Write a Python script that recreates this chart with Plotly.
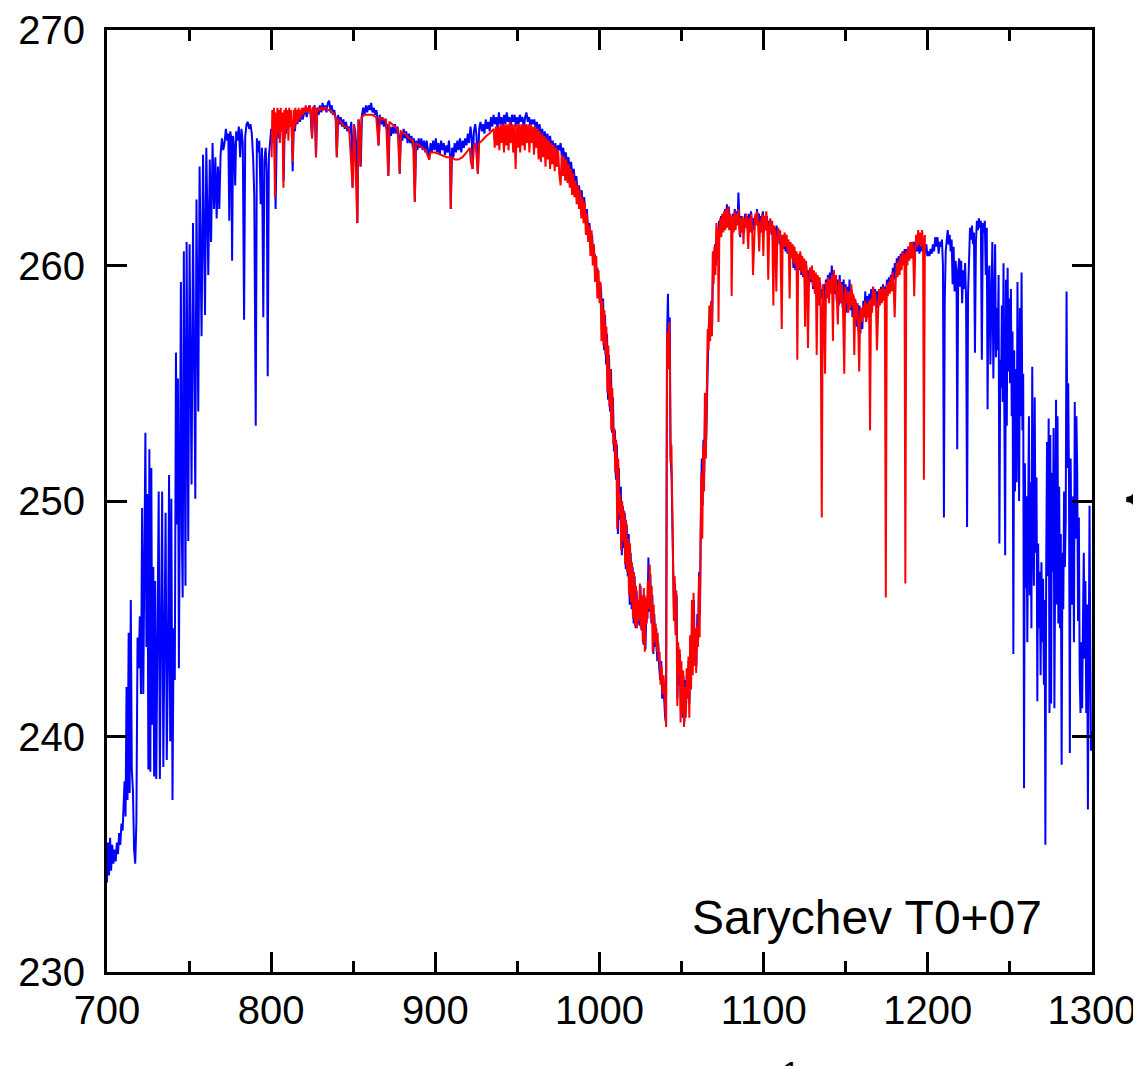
import plotly.graph_objects as go

# blue spectrum (wavenumber, brightness temperature)
blue_rise = [(700.0,233.8),(700.6,235.5),(701.2,234.1),(701.9,235.7),(702.5,234.3),(703.2,235.4),(703.9,234.6),(704.6,235.2),(705.3,234.7),(706.0,235.5),(706.7,235.0),(707.4,235.9),(708.1,235.4),(708.8,236.3),(709.5,236.0),(710.2,237.1),(710.7,238.1),(711.3,236.6),(711.9,242.1),(712.5,237.3),(713.2,244.4),(713.8,237.6),(714.5,245.8),(715.1,238.6),(715.8,237.7),(716.5,235.2),(717.2,234.6),(717.9,236.4),(718.6,244.2),(719.3,242.9),(720.0,245.1),(720.7,241.8),(721.4,249.7),(722.1,241.8),(722.8,246.5),(723.4,252.9),(724.0,243.8),(724.6,250.3),(725.2,238.6),(725.8,252.2),(726.4,238.5),(727.0,251.4),(727.6,240.5),(728.2,247.2),(728.7,238.3),(729.3,246.6),(730.0,238.2),(730.7,244.8),(731.5,250.4),(732.2,238.2),(732.9,243.6),(733.6,250.4),(734.3,238.7),(735.0,245.0),(735.7,249.5),(736.4,239.0),(737.1,243.0),(737.8,251.1),(738.5,239.8),(739.2,250.1),(739.9,237.3),(740.6,244.6),(741.3,242.4),(742.0,256.3),(742.7,249.0),(743.2,255.2),(743.8,242.9),(744.4,250.6),(745.0,259.3),(745.6,248.5),(746.1,245.9),(746.8,260.6),(747.3,252.0),(747.8,246.4),(748.5,261.0),(749.0,254.4),(749.5,248.3),(750.3,260.9),(750.9,255.6),(751.5,250.7),(752.4,261.8),(753.1,256.0),(753.8,250.1),(754.5,262.8),(755.0,258.5),(755.6,253.8),(756.4,264.2),(757.0,259.8),(757.6,257.0),(758.5,264.7),(759.1,261.5),(759.7,257.9),(760.5,265.0),(761.1,262.5),(761.7,259.6),(762.6,264.5),(763.4,261.0),(764.3,265.2),(765.2,262.4),(766.0,264.6),(766.8,262.0),(767.6,264.2),(768.4,262.4),(769.2,264.7),(770.0,265.4),(770.8,264.9),(771.6,265.2),(772.4,265.8),(773.2,265.3),(773.9,265.6),(774.5,261.9),(775.1,265.7),(775.7,265.4),(776.2,260.2),(776.8,265.5),(777.5,265.0),(778.1,263.4),(778.7,265.7),(779.5,265.3),(780.3,265.9),(781.1,264.6),(781.9,265.8),(782.7,265.2),(783.5,257.7),(784.2,265.5),(785.0,266.0),(785.8,266.1),(786.6,265.8),(787.4,266.0),(788.2,265.6),(789.0,264.6),(789.7,263.0),(790.6,253.2),(791.3,265.4),(792.0,264.8),(792.8,265.3),(793.6,262.6),(794.4,265.0),(795.2,257.8),(795.9,264.5),(796.6,265.0),(797.3,264.0),(797.9,255.3),(798.6,264.6),(799.3,265.2),(800.0,265.8)]

blue_plateau = [(800.7,265.3),(801.4,266.2),(802.1,265.0),(802.7,262.4),(803.4,265.6),(804.1,266.0),(804.8,265.4),(805.5,266.2),(806.2,265.7),(806.9,266.3),(807.6,263.6),(808.3,266.0),(809.0,265.6),(809.7,266.3),(810.4,265.8),(811.1,266.4),(811.8,265.9),(812.5,266.2),(813.1,264.0),(813.8,266.1),(814.5,265.7),(815.2,266.4),(816.0,266.0),(816.8,266.5),(817.6,266.1),(818.4,266.6),(819.2,266.2),(820.0,266.5),(820.8,266.7),(821.6,266.3),(822.4,266.6),(823.2,266.8),(824.0,266.4),(824.9,265.4),(825.7,266.6),(826.5,266.8),(827.3,264.6),(828.1,266.7),(828.9,266.4),(829.7,266.8),(830.5,266.5),(831.3,266.9),(832.1,266.6),(832.9,266.8),(833.7,266.5),(834.5,266.9),(835.3,267.0),(836.1,266.6),(836.9,266.8),(837.7,266.4),(838.5,266.6),(839.3,266.2),(840.0,264.6),(840.8,266.4),(841.6,266.0),(842.4,266.3),(843.2,265.9),(844.0,266.2),(844.8,265.8),(845.6,266.1),(846.4,265.7),(847.2,265.9),(848.0,265.6),(848.8,266.1),(849.6,263.3),(850.4,266.0),(851.2,265.7),(852.0,264.9),(852.5,261.8),(853.2,266.2),(854.0,265.9),(854.6,264.2),(855.3,266.4),(856.1,266.7),(856.9,266.4),(857.7,266.8),(858.5,266.5),(859.3,266.8),(860.1,266.6),(860.9,266.9),(861.7,266.5),(862.5,266.7),(863.3,266.4),(864.1,266.6),(864.9,266.2),(865.4,265.1),(866.2,266.4),(867.0,266.0),(867.8,266.3),(868.6,265.9),(869.4,266.2),(870.2,265.8),(871.0,266.0),(871.4,263.8),(872.2,265.9),(873.0,265.5),(873.8,265.9),(874.6,265.6),(875.4,266.0),(876.2,265.6),(877.0,265.9),(877.8,265.5),(878.3,263.9),(879.1,265.7),(879.9,265.3),(880.7,265.8),(881.5,265.4),(882.3,265.7),(883.1,265.2),(883.9,265.6),(884.7,265.2),(885.5,265.5),(886.3,265.0),(887.0,265.4),(887.5,262.7),(888.3,265.3),(889.1,264.9),(889.9,265.4),(890.7,265.0),(891.5,265.4),(892.3,264.9),(893.1,265.3),(893.9,264.8),(894.7,265.3),(895.5,264.9),(896.3,264.5),(897.1,265.2),(897.9,264.8),(898.7,265.3),(899.5,264.9),(900.3,265.4),(901.1,264.8),(901.9,265.2),(902.7,264.7),(903.5,265.3),(904.3,264.9),(905.1,265.2),(905.9,264.7),(906.7,265.1),(907.5,264.8),(908.3,265.3),(909.0,264.6),(909.4,262.4),(910.2,265.0),(911.0,264.6),(911.8,265.2),(912.6,264.8),(913.4,265.3),(914.2,264.9),(915.0,265.4),(915.8,264.8),(916.6,265.3),(917.4,265.0),(918.2,265.4),(919.0,265.1),(919.8,265.6),(920.6,265.2),(921.4,265.9),(922.2,265.4),(922.7,264.1),(923.5,265.7),(924.3,266.0),(925.1,265.5),(925.9,263.9),(926.7,265.8),(927.5,266.1),(928.3,265.7),(929.1,266.0),(929.9,265.6),(930.7,266.2),(931.5,265.8),(932.3,266.1),(933.1,265.7),(933.9,266.3),(934.7,265.9),(935.5,266.4),(936.3,266.0),(937.1,266.3),(937.9,265.8),(938.7,266.5),(939.5,266.0),(940.3,266.3),(941.1,265.9),(941.9,266.4),(942.7,266.0),(943.5,266.5),(944.3,266.1),(945.1,266.3),(945.9,265.8),(946.7,266.4),(947.5,266.1),(948.3,266.4),(949.1,265.9),(949.9,266.3),(950.7,266.0),(951.5,266.4),(952.3,266.1),(953.1,266.3),(953.9,265.8),(954.7,266.3),(955.5,266.5),(956.3,266.1),(957.1,266.3),(957.9,265.9),(958.7,266.2),(959.5,266.0),(960.3,266.2),(961.1,265.8),(961.9,266.1),(962.7,265.6),(963.5,266.0),(964.3,265.5),(965.1,265.8),(965.9,265.3),(966.7,265.7),(967.5,265.2),(968.3,265.6),(969.1,265.1),(969.9,265.5),(970.7,265.0),(971.5,265.3),(972.3,264.8),(973.1,265.2),(973.9,264.7),(974.7,265.1),(975.5,264.9),(976.3,265.2),(977.1,264.6),(977.9,265.0),(978.7,264.5),(979.5,264.8),(980.3,264.2),(981.1,264.6),(981.9,264.0),(982.7,264.4),(983.5,263.8),(984.3,264.1),(985.1,263.5),(985.9,263.8),(986.7,263.1),(987.5,263.4),(988.3,262.8),(989.1,263.2),(989.9,262.5),(990.7,262.9),(991.5,261.9),(992.3,262.4),(993.1,261.4),(993.9,261.8),(994.7,260.7),(995.5,261.3),(996.3,260.1),(997.1,260.5),(997.9,259.4),(998.7,259.9),(999.5,258.8),(1000.3,259.3)]

blue_band = [(1001.0,258.9),(1001.6,256.9),(1002.2,258.6),(1002.8,256.4),(1003.4,257.9),(1004.0,255.8),(1004.6,257.1),(1005.2,254.3),(1005.8,256.2),(1006.4,253.8),(1007.0,255.6),(1007.6,252.9),(1008.2,254.4),(1008.8,252.1),(1009.4,253.0),(1010.0,250.9),(1010.6,252.4),(1011.2,248.6),(1011.8,251.4),(1012.4,249.2),(1013.0,250.6),(1013.6,247.7),(1014.2,249.8),(1014.8,248.0),(1015.4,249.5),(1016.0,247.1),(1016.6,249.0),(1017.2,246.8),(1017.8,248.6),(1018.4,245.6),(1019.0,247.8),(1019.6,245.4),(1020.2,247.2),(1020.8,244.8),(1021.4,246.8),(1022.0,244.6),(1022.6,246.2),(1023.2,244.8),(1023.8,245.6),(1024.4,244.7),(1025.0,246.4),(1025.6,244.5),(1026.2,245.8),(1026.8,243.9),(1027.4,246.0),(1028.0,243.7),(1028.6,245.6),(1029.2,245.0),(1029.8,247.6),(1030.4,245.3),(1031.0,246.9),(1031.6,244.8),(1032.2,246.0),(1032.8,243.5),(1033.4,245.2),(1034.0,243.8),(1034.6,244.6),(1035.2,243.2),(1035.8,244.0),(1036.4,242.9),(1037.0,242.4),(1037.6,243.2),(1038.2,241.6),(1038.8,242.4),(1039.4,241.5),(1040.0,240.8),(1040.5,240.6),(1041.1,256.8),(1041.7,258.8),(1042.2,256.2),(1042.8,257.8),(1043.3,252.0),(1043.9,251.0),(1044.4,248.9),(1044.9,246.4),(1045.4,245.2),(1046.0,246.5),(1046.5,244.6),(1047.0,246.0),(1047.5,241.6),(1048.0,243.8),(1048.5,242.2),(1049.0,243.5),(1049.6,241.0),(1050.1,242.8),(1050.6,240.8),(1051.1,242.6),(1051.7,240.6),(1052.2,242.4),(1052.7,241.2),(1053.2,242.6),(1053.8,241.8),(1054.3,243.2),(1054.8,241.4),(1055.4,244.0),(1055.9,242.6),(1056.4,245.2),(1057.0,243.0),(1057.5,245.8),(1058.0,243.4),(1058.5,244.2),(1059.0,243.0),(1059.6,245.2),(1060.2,244.4),(1060.7,247.0),(1061.2,245.2),(1061.8,249.6),(1062.3,251.8),(1062.8,249.8),(1063.3,252.6),(1063.8,251.2),(1064.4,254.4),(1065.0,252.6),(1065.6,255.4),(1066.2,256.6),(1066.8,257.8),(1067.4,257.2),(1068.0,258.4),(1068.6,257.4),(1069.2,260.2),(1069.8,259.6),(1070.4,260.9),(1071.0,260.0),(1071.6,261.6),(1072.2,260.8),(1072.8,261.9),(1073.4,261.3),(1074.0,262.1),(1074.6,261.5),(1075.2,262.2),(1075.8,261.6),(1076.4,262.4),(1077.0,261.8),(1077.6,262.6),(1078.2,261.9),(1078.8,262.5),(1079.4,261.6),(1080.0,262.0),(1080.6,261.4),(1081.2,262.2),(1081.8,261.6),(1082.4,262.4),(1083.0,261.8),(1083.6,262.3),(1084.2,262.0),(1084.6,263.1),(1085.1,261.8),(1085.7,261.2),(1086.3,262.1),(1086.9,261.5),(1087.5,262.0),(1088.1,261.4),(1088.7,262.2),(1089.3,261.7),(1089.9,262.1),(1090.5,261.4),(1091.1,262.2),(1091.7,261.8),(1092.3,262.3),(1092.9,261.6),(1093.5,262.0),(1094.1,261.5),(1094.7,262.1),(1095.3,261.8),(1095.9,262.4),(1096.5,261.8),(1097.1,262.2),(1097.7,261.6),(1098.3,262.1),(1098.9,261.7),(1099.5,262.3),(1100.1,261.6),(1100.7,262.0),(1101.3,261.5),(1101.9,262.1),(1102.5,261.6),(1103.1,261.9),(1103.7,261.4),(1104.3,261.9),(1104.9,261.3),(1105.5,261.7),(1106.1,261.2),(1106.7,261.6),(1107.3,261.1),(1107.9,261.7),(1108.5,261.0),(1109.1,261.5),(1109.7,260.9),(1110.3,261.3),(1110.9,260.6),(1111.5,261.2),(1112.1,260.7),(1112.7,261.3),(1113.3,260.6),(1113.9,261.1),(1114.5,260.5),(1115.1,261.0),(1115.7,260.3),(1116.3,260.8),(1116.9,260.4),(1117.5,260.9),(1118.1,259.9),(1118.7,260.6),(1119.3,259.8),(1119.9,260.5),(1120.5,259.6),(1121.1,260.4),(1121.7,259.8),(1122.3,260.5),(1122.9,259.6),(1123.5,260.3),(1124.1,259.5),(1124.7,260.2),(1125.3,258.9),(1125.9,260.0),(1126.5,259.3),(1127.1,259.8),(1127.7,259.2),(1128.3,259.9),(1128.9,259.3),(1129.5,259.8),(1130.1,259.0),(1130.7,259.6),(1131.3,258.8),(1131.9,259.4),(1132.5,258.6),(1133.1,259.5),(1133.7,258.4),(1134.3,259.3),(1134.9,258.6),(1135.5,259.0),(1136.1,258.4),(1136.7,259.2),(1137.3,258.5),(1137.9,259.4),(1138.5,258.7),(1139.1,259.6),(1139.7,258.6),(1140.3,259.7),(1140.9,258.9),(1141.5,260.0),(1142.1,259.0),(1142.7,259.8),(1143.3,258.8),(1143.9,259.6),(1144.5,258.5),(1145.1,259.4),(1145.7,258.3),(1146.3,259.6),(1146.9,258.4),(1147.5,259.3),(1148.1,258.2),(1148.7,259.4),(1149.3,258.3),(1149.9,259.2),(1150.5,258.0),(1151.1,259.1),(1151.7,258.2),(1152.3,259.4),(1152.9,258.1),(1153.5,259.0),(1154.1,257.8),(1154.7,258.7),(1155.3,257.6),(1155.9,258.5),(1156.5,257.4),(1157.1,258.4),(1157.7,257.2),(1158.3,258.3),(1158.9,257.1),(1159.5,258.2),(1160.1,257.3),(1160.7,258.5),(1161.3,257.8),(1161.9,258.9),(1162.5,257.6),(1163.1,258.7),(1163.7,257.9),(1164.3,258.8),(1164.9,258.2),(1165.5,259.0),(1166.1,258.4),(1166.7,259.1),(1167.3,258.3),(1167.9,259.0),(1168.5,258.4),(1169.1,258.9),(1169.7,258.2),(1170.3,259.0),(1170.9,258.4),(1171.5,259.1),(1172.1,258.5),(1172.7,259.2),(1173.3,258.6),(1173.9,259.1),(1174.5,258.7),(1175.1,259.4),(1175.7,258.9),(1176.3,259.5),(1176.9,259.0),(1177.5,259.6),(1178.1,259.2),(1178.7,259.9),(1179.3,259.4),(1179.9,260.1),(1180.5,259.6),(1181.1,260.3),(1181.7,259.8),(1182.3,260.4),(1182.9,259.9),(1183.5,260.5),(1184.1,260.0),(1184.7,260.6),(1185.3,260.1),(1185.9,260.7),(1186.5,260.2),(1187.1,260.7),(1187.7,260.3),(1188.3,260.8),(1188.9,260.3),(1189.5,260.9),(1190.1,260.5),(1190.7,261.0),(1191.3,260.5),(1191.9,261.0),(1192.5,260.6),(1193.1,261.1),(1193.7,260.6),(1194.3,260.9),(1194.9,260.5),(1195.5,261.0),(1196.1,260.6),(1196.7,261.0),(1197.3,260.6),(1197.9,260.9),(1198.5,260.5),(1199.1,260.9),(1199.7,260.4)]

blue_tail = [(1200.3,260.6),(1201.0,260.4),(1201.7,260.7),(1202.4,260.5),(1203.1,260.9),(1203.8,260.6),(1204.5,261.2),(1205.2,260.8),(1205.9,261.2),(1206.6,260.5),(1207.3,261.0),(1208.0,260.8),(1208.6,261.1),(1209.2,260.0),(1209.8,249.3),(1210.3,258.5),(1210.9,260.6),(1211.5,261.2),(1212.1,261.5),(1212.7,260.9),(1213.3,261.3),(1213.9,260.6),(1214.5,261.1),(1215.1,259.2),(1215.7,260.8),(1216.3,258.9),(1216.9,260.2),(1217.5,259.5),(1217.9,252.2),(1218.5,259.8),(1219.1,260.3),(1219.7,259.1),(1220.3,260.2),(1220.9,258.4),(1221.5,259.8),(1222.1,259.0),(1222.7,260.1),(1223.3,258.6),(1223.9,248.9),(1224.5,258.8),(1225.1,261.0),(1225.7,261.6),(1226.3,261.1),(1226.9,261.7),(1227.5,260.9),(1228.1,261.4),(1228.7,256.3),(1229.3,261.0),(1229.9,261.9),(1230.5,261.5),(1231.1,262.0),(1231.7,261.6),(1232.3,261.9),(1232.9,256.0),(1233.5,261.8),(1234.1,261.4),(1234.7,261.9),(1235.3,259.6),(1235.9,261.6),(1236.4,253.9),(1236.9,259.4),(1237.5,260.0),(1238.1,255.8),(1238.7,259.6),(1239.3,261.0),(1239.9,255.2),(1240.5,258.6),(1241.0,260.9),(1241.5,256.1),(1242.0,258.2),(1242.6,256.4),(1243.1,259.6),(1243.6,248.2),(1244.1,256.0),(1244.6,254.8),(1245.1,258.3),(1245.6,254.2),(1246.1,260.1),(1246.6,253.8),(1247.1,247.7),(1247.6,259.4),(1248.1,253.2),(1248.6,259.9),(1249.1,255.5),(1249.6,258.6),(1250.1,255.0),(1250.6,259.0),(1251.1,253.6),(1251.6,257.2),(1252.1,243.5),(1252.6,256.4),(1253.1,250.4),(1253.6,255.6),(1254.1,250.8),(1254.6,259.3),(1255.1,252.0),(1255.6,250.0),(1256.1,258.2),(1256.6,253.6),(1257.1,259.7),(1257.6,253.0),(1258.1,255.4),(1258.6,237.8),(1259.1,251.6),(1259.6,246.3),(1260.1,250.2),(1260.6,244.0),(1261.1,249.4),(1261.6,253.6),(1262.1,246.0),(1262.6,250.8),(1263.1,244.6),(1263.6,255.7),(1264.1,249.0),(1264.6,246.4),(1265.1,254.4),(1265.6,247.8),(1266.2,251.0),(1266.7,241.5),(1267.2,248.2),(1267.7,244.6),(1268.2,247.0),(1268.7,242.6),(1269.2,247.4),(1269.7,244.0),(1270.2,246.7),(1270.7,242.2),(1271.2,245.8),(1271.6,235.4),(1272.1,247.2),(1272.6,252.5),(1273.1,246.8),(1273.6,253.5),(1274.1,241.0),(1274.6,252.8),(1275.1,241.4),(1275.6,251.2),(1276.1,247.0),(1276.6,253.1),(1277.1,241.2),(1277.6,251.0),(1278.1,254.3),(1278.6,245.6),(1279.0,253.6),(1279.5,244.8),(1280.0,250.6),(1280.5,244.6),(1281.0,248.6),(1281.5,238.8),(1282.0,247.8),(1282.5,245.4),(1283.0,250.4),(1283.5,247.2),(1284.0,249.2),(1284.5,258.9),(1285.0,251.4),(1285.5,255.0),(1286.0,250.6),(1286.5,239.3),(1287.0,251.8),(1287.5,247.4),(1288.0,245.6),(1288.5,250.2),(1289.0,244.0),(1289.5,254.2),(1290.0,248.4),(1290.5,253.6),(1291.0,251.2),(1291.5,244.9),(1292.0,249.3),(1292.5,242.6),(1293.0,241.0),(1293.5,244.0),(1294.0,241.2),(1294.5,245.0),(1295.0,247.8),(1295.5,243.3),(1296.0,246.6),(1296.5,241.0),(1297.0,245.6),(1297.5,236.9),(1298.0,244.2),(1298.5,249.8),(1299.0,243.0),(1299.4,239.4),(1300.0,240.2)]

# red spectrum
red_plateau = [(800.3,264.6),(800.7,266.6),(801.2,265.2),(801.7,266.7),(802.3,262.9),(802.8,266.5),(803.3,265.4),(803.8,266.7),(804.3,265.6),(804.8,266.6),(805.3,265.2),(805.8,266.7),(806.3,265.7),(806.8,266.5),(807.5,263.3),(808.0,266.6),(808.5,265.4),(809.0,266.7),(809.5,265.8),(810.0,266.6),(810.5,265.3),(811.0,266.7),(811.5,265.9),(812.0,266.6),(812.6,265.5),(813.2,264.4),(813.7,266.6),(814.2,265.8),(814.7,266.7),(815.2,266.0),(815.7,266.6),(816.2,266.1),(816.7,266.7),(817.2,266.2),(817.7,266.6),(818.2,266.3),(818.7,266.7),(819.3,266.4),(819.9,266.7),(820.5,266.5),(821.1,266.8),(821.7,266.5),(822.3,266.7),(822.9,266.5),(823.5,266.8),(824.2,266.6),(824.9,265.4),(825.5,266.7),(826.2,266.7),(826.8,266.6),(827.3,264.6),(827.9,266.6),(828.7,266.7),(829.5,266.6),(830.5,266.7),(831.5,266.6),(832.5,266.7),(833.5,266.7),(834.5,266.6),(835.5,266.6),(836.5,266.5),(837.5,266.5),(838.5,266.4),(839.4,266.3),(840.0,264.6),(840.6,266.2),(842.5,266.1),(844.5,265.9),(847.5,265.8),(849.6,263.3),(850.5,266.0),(852.5,261.8),(853.2,266.2),(854.3,264.2),(855.0,266.3),(857.0,266.4),(859.0,266.4),(861.5,266.4),(864.0,266.3),(865.4,265.1),(866.2,266.3),(868.0,266.2),(870.0,266.2),(871.3,263.8),(872.0,266.1),(873.5,266.0),(875.4,265.9),(877.0,265.8),(878.3,263.9),(879.0,265.7),(881.5,265.6),(884.0,265.4),(886.4,265.3),(887.5,262.7),(888.2,265.2),(890.0,265.1),(891.6,265.0),(894.0,264.9),(896.3,264.5),(897.0,264.8),(900.0,264.8),(904.0,264.7),(907.0,264.6),(909.0,264.6),(909.4,262.4),(909.9,264.6),(912.0,264.5),(914.0,264.5),(916.5,264.6),(919.0,264.8),(921.0,265.0),(921.6,264.4),(922.7,264.1),(923.5,265.1),(924.5,265.2),(925.9,263.9),(926.7,265.2),(928.4,265.3),(931.0,265.5),(933.0,265.6),(935.5,265.8),(936.2,265.0),(936.9,265.9),(937.6,265.1),(938.3,265.9),(939.0,264.9),(939.7,266.0),(940.4,265.2),(941.1,266.0),(941.8,264.8),(942.5,266.0),(943.2,265.1),(943.9,266.0),(944.6,264.9),(945.3,266.1),(946.0,265.2),(946.7,266.0),(947.4,264.8),(948.1,266.0),(948.9,264.1),(949.6,266.0),(950.3,265.0),(951.0,266.0),(951.7,264.8),(952.4,266.0),(953.1,265.1),(953.8,266.0),(954.5,264.9),(955.2,266.0),(955.9,265.2),(956.6,266.0),(957.3,264.8),(958.0,266.0),(958.7,265.2),(959.4,265.9),(960.1,264.7),(960.8,265.9),(961.5,265.0),(962.2,265.8),(962.9,264.5),(963.6,265.7),(964.3,264.4),(965.0,265.6),(965.7,264.6),(966.4,265.5),(967.1,264.2),(967.8,265.4),(968.5,264.5),(969.2,265.3),(969.9,264.1),(970.6,265.2),(971.3,264.3),(972.0,265.1),(972.7,264.0),(973.4,265.0),(974.1,264.2),(974.8,264.9),(975.5,263.9),(976.3,263.4),(977.0,264.7),(977.7,263.8),(978.4,264.6),(979.1,263.6),(979.8,264.5),(980.5,263.5),(981.2,264.3),(981.9,263.3),(982.6,264.1),(983.3,263.0),(984.0,263.9),(984.7,262.9),(985.4,263.6),(986.1,262.6),(986.8,263.4),(987.5,262.4),(988.2,263.2),(988.9,262.0),(989.6,262.9),(990.3,261.8),(991.0,262.7),(991.7,261.3),(992.4,262.2),(993.1,261.0),(993.8,261.7),(994.5,260.4),(995.2,261.5),(995.9,260.0),(996.6,260.9),(997.3,259.3),(998.0,260.4),(998.7,258.6),(999.4,259.8)]

red_band = [(1000.0,258.4),(1000.6,259.3),(1001.2,256.8),(1001.8,258.5),(1002.4,256.6),(1003.0,258.1),(1003.6,256.2),(1004.2,257.4),(1004.8,254.6),(1005.4,256.6),(1006.0,254.0),(1006.6,255.6),(1007.2,253.0),(1007.8,254.8),(1008.4,252.4),(1009.0,253.1),(1009.6,251.2),(1010.2,252.6),(1010.8,248.8),(1011.4,251.8),(1012.0,249.4),(1012.6,250.3),(1013.2,247.9),(1013.8,250.0),(1014.4,248.3),(1015.0,249.6),(1015.6,247.3),(1016.2,249.2),(1016.8,247.0),(1017.4,248.4),(1018.0,246.0),(1018.6,248.2),(1019.2,245.7),(1019.8,247.4),(1020.4,245.0),(1021.0,247.0),(1021.6,244.7),(1022.2,246.4),(1022.8,244.6),(1023.4,245.8),(1024.0,244.9),(1024.6,246.5),(1025.2,244.6),(1025.8,246.0),(1026.4,244.0),(1027.0,246.3),(1027.6,243.6),(1028.2,245.9),(1028.8,244.8),(1029.4,246.6),(1030.0,245.4),(1030.6,247.3),(1031.2,245.0),(1031.8,246.4),(1032.4,243.6),(1033.0,245.6),(1033.6,244.0),(1034.2,244.8),(1034.8,243.6),(1035.4,244.4),(1036.0,243.2),(1036.6,243.6),(1037.2,242.2),(1037.8,243.0),(1038.4,241.8),(1039.0,242.6),(1039.6,241.4),(1040.2,241.0),(1040.6,240.4),(1041.2,257.2),(1041.8,255.6),(1042.3,257.6),(1042.8,256.4),(1043.3,251.6),(1043.8,252.4),(1044.2,249.8),(1044.8,247.0),(1045.3,244.9),(1045.8,246.8),(1046.3,244.3),(1046.8,246.2),(1047.4,241.3),(1047.9,244.0),(1048.4,242.6),(1048.9,243.7),(1049.4,240.6),(1049.9,243.2),(1050.5,241.0),(1051.0,242.8),(1051.5,240.4),(1052.0,242.1),(1052.6,240.8),(1053.1,242.9),(1053.6,241.6),(1054.2,243.4),(1054.7,240.8),(1055.2,244.3),(1055.8,242.0),(1056.3,245.8),(1056.8,242.6),(1057.3,246.1),(1057.8,243.0),(1058.4,244.6),(1058.9,242.7),(1059.4,244.7),(1060.0,243.8),(1060.6,246.8),(1061.0,244.2),(1061.6,248.6),(1062.1,251.2),(1062.6,248.4),(1063.2,252.4),(1063.7,250.4),(1064.2,254.6),(1064.8,251.8),(1065.3,254.8),(1065.9,257.3),(1066.4,256.4),(1066.9,258.3),(1067.4,256.8),(1068.0,258.5),(1068.5,257.0),(1069.0,260.6),(1069.5,259.2),(1070.0,260.8),(1070.6,259.6),(1071.2,261.8),(1071.7,260.2),(1072.2,261.6),(1072.5,257.6),(1073.0,261.4),(1073.6,262.0),(1074.2,261.2),(1074.8,262.2),(1075.4,261.4),(1076.0,262.3),(1076.6,261.5),(1077.2,262.4),(1077.8,261.6),(1078.4,262.5),(1079.0,261.5),(1079.6,262.2),(1080.2,261.6),(1080.5,258.7),(1081.1,262.1),(1081.7,261.4),(1082.3,262.3),(1082.9,261.5),(1083.5,262.2),(1084.1,261.7),(1084.7,262.4),(1085.3,261.3),(1085.9,262.0),(1086.5,261.4),(1087.1,262.1),(1087.7,260.9),(1088.3,262.0),(1088.9,261.6),(1089.5,262.2),(1090.1,261.5),(1090.6,260.7),(1091.2,262.0),(1091.8,261.4),(1092.4,262.2),(1093.0,261.6),(1093.5,259.6),(1094.3,261.5),(1094.9,262.2),(1095.5,261.7),(1096.1,262.3),(1096.7,261.6),(1097.3,260.6),(1097.9,261.9),(1098.5,261.4),(1099.1,262.2),(1099.8,260.4),(1100.4,262.1),(1101.0,261.5),(1101.6,262.3),(1102.2,261.7),(1102.8,259.4),(1103.4,261.6),(1104.0,262.0),(1104.6,261.4),(1105.2,261.9),(1105.9,258.3),(1106.5,261.7),(1107.1,261.2),(1107.7,258.9),(1108.3,261.1),(1108.9,261.6),(1109.5,261.0),(1110.1,261.5),(1111.0,257.3),(1111.6,261.3),(1112.2,260.8),(1112.8,261.4),(1113.4,260.8),(1114.0,261.3),(1114.6,260.6),(1115.2,261.1),(1115.8,258.6),(1116.4,261.0),(1117.0,260.3),(1117.6,260.9),(1118.2,260.1),(1118.8,260.8),(1119.4,260.0),(1120.0,260.6),(1120.5,256.0),(1121.1,260.5),(1121.7,259.9),(1122.3,260.6),(1122.9,259.7),(1123.5,260.4),(1124.1,259.6),(1124.7,260.3),(1125.2,257.4),(1125.8,260.2),(1126.4,259.5),(1127.0,256.5),(1127.6,259.3),(1128.2,259.9),(1128.8,259.4),(1129.4,260.0),(1130.0,259.1),(1130.6,259.8),(1131.2,258.8),(1131.8,259.7),(1132.3,256.2),(1132.9,259.6),(1133.5,258.3),(1134.1,259.5),(1134.7,258.2),(1135.4,249.3),(1136.0,259.2),(1136.6,258.5),(1137.4,255.4),(1138.0,259.3),(1138.6,258.6),(1139.2,259.5),(1139.8,258.4),(1140.4,259.4),(1141.0,258.8),(1141.6,259.6),(1142.2,256.8),(1142.8,259.8),(1143.4,258.9),(1144.0,259.6),(1144.6,258.6),(1145.2,257.5),(1145.8,259.3),(1146.4,259.4),(1147.0,258.4),(1147.6,259.2),(1148.2,258.6),(1149.1,255.4),(1149.7,259.1),(1150.3,258.4),(1150.9,258.9),(1151.6,258.0),(1152.2,258.9),(1152.8,258.2),(1153.4,259.2),(1154.0,258.3),(1154.6,258.8),(1155.2,256.2),(1155.8,258.6),(1156.4,257.7),(1157.0,258.4),(1157.6,257.4),(1158.2,255.5),(1158.8,258.0),(1159.4,258.2),(1160.0,257.6),(1160.6,258.3),(1161.2,257.8),(1161.8,258.5),(1162.4,257.6),(1163.0,258.4),(1163.6,257.8),(1164.2,258.5),(1164.8,253.0),(1165.4,258.6),(1166.0,258.0),(1166.6,259.1),(1167.2,258.3),(1167.8,258.9),(1168.4,258.4),(1169.0,256.4),(1169.6,258.2),(1170.2,259.0),(1170.8,258.3),(1171.4,259.0),(1172.0,258.4),(1172.6,259.1),(1173.2,258.5),(1173.8,259.0),(1174.4,245.9),(1175.0,259.2),(1175.6,258.7),(1176.2,259.3),(1176.8,258.8),(1177.4,259.5),(1178.0,258.9),(1178.6,259.7),(1179.2,259.1),(1179.8,257.8),(1180.4,259.3),(1181.0,260.1),(1181.6,259.5),(1182.2,260.2),(1182.8,259.6),(1183.4,260.4),(1184.0,259.8),(1184.6,260.6),(1185.2,260.0),(1185.8,260.5),(1186.3,246.5),(1186.9,260.6),(1187.5,260.0),(1188.1,260.8),(1188.7,260.2),(1189.3,261.0),(1189.9,260.3),(1190.5,261.0),(1191.1,260.5),(1191.7,258.7),(1192.3,260.6),(1192.9,261.3),(1193.5,260.8),(1194.1,261.5),(1194.7,260.9),(1195.3,261.4),(1195.9,260.8),(1196.5,261.5),(1197.1,261.0),(1197.6,250.9),(1198.2,261.3)]

blue = blue_rise + blue_plateau + blue_band + blue_tail
red = red_plateau + red_band

x_ticks = [700, 800, 900, 1000, 1100, 1200, 1300]
y_ticks = [230, 240, 250, 260, 270]
label = "Sarychev T0+07"

FONT = "Liberation Sans, Arial, sans-serif"

fig = go.Figure()
fig.add_trace(go.Scatter(x=[p[0] for p in blue], y=[p[1] for p in blue], mode="lines",
                         line=dict(color="#0000ff", width=2), showlegend=False))
fig.add_trace(go.Scatter(x=[p[0] for p in red], y=[p[1] for p in red], mode="lines",
                         line=dict(color="#ff0000", width=2), showlegend=False))

axis_style = dict(showline=True, linewidth=3, linecolor="black", mirror="allticks",
                  ticks="inside", ticklen=20, tickwidth=3, tickcolor="black",
                  showgrid=False, zeroline=False, automargin=False,
                  tickfont=dict(family=FONT, size=40, color="black"))

fig.update_xaxes(range=[700, 1300], tickvals=x_ticks, ticklabelstandoff=1,
                 minor=dict(ticks="inside", ticklen=11, tickwidth=3, tickcolor="black",
                            dtick=50, tick0=700, showgrid=False),
                 **axis_style)
fig.update_yaxes(range=[230, 270], tickvals=y_ticks, ticklabelstandoff=11, **axis_style)

fig.add_annotation(text=label, xref="paper", yref="paper", x=0.592, y=0.058,
                   xanchor="left", yanchor="middle", showarrow=False,
                   font=dict(family=FONT, size=48, color="black"))
# cut-off bits at the figure edges (partly outside the page, as in the original)
fig.add_annotation(text="{", xref="paper", yref="paper", x=1.031, y=0.509,
                   xanchor="left", yanchor="middle", showarrow=False,
                   font=dict(family=FONT, size=76, color="black"))
fig.add_annotation(text="1", xref="paper", yref="paper", x=0.694, y=-0.086,
                   xanchor="center", yanchor="top", showarrow=False,
                   font=dict(family=FONT, size=32, color="black"))

# page body adds an 8px offset, so the figure is 8px smaller and shifted
fig.update_layout(width=1133, height=1058, plot_bgcolor="white", paper_bgcolor="white",
                  margin=dict(l=99, r=49, t=22, b=94))

fig.write_html("out.html")
